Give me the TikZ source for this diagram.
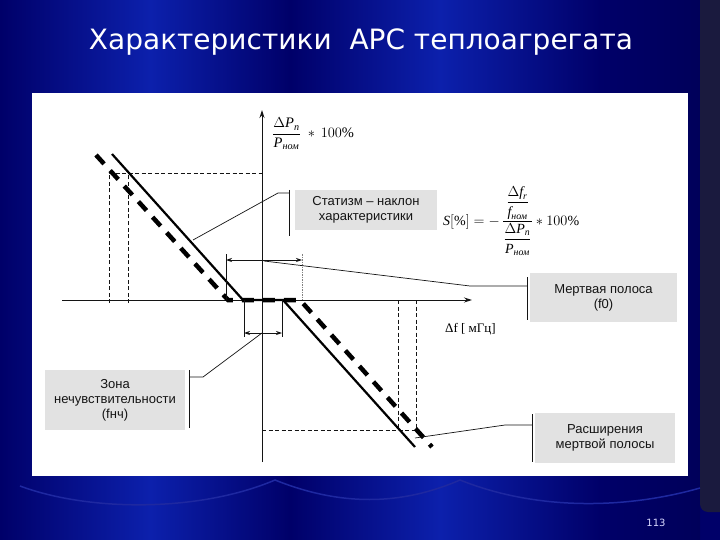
\documentclass[tikz,border=0pt]{standalone}
\usepackage{fontspec}
\usepackage{amsmath}
\setmainfont{Liberation Serif}
\newfontfamily\arialf{Liberation Sans}
\newfontfamily\titlef{DejaVu Sans}
\usetikzlibrary{arrows.meta}
\newcommand{\cyit}[1]{\text{\itshape #1}}
\definecolor{bgdark}{RGB}{0,0,105}
\definecolor{bgbright}{RGB}{12,32,172}
\definecolor{bgdeep}{RGB}{0,0,90}
\definecolor{edgec}{RGB}{26,26,62}
\definecolor{scal}{RGB}{30,40,160}
\definecolor{boxc}{RGB}{226,226,226}
\definecolor{inkc}{RGB}{20,20,20}
\tikzset{
  axisline/.style={line width=0.9pt, draw=inkc},
  thindash/.style={line width=0.8pt, draw=inkc, dash pattern=on 4pt off 2.5pt},
  charline/.style={line width=2.2pt, draw=black},
  dashline/.style={line width=4.5pt, draw=black, dash pattern=on 12pt off 9pt},
  thin leader/.style={line width=0.7pt, draw=inkc},
  bar/.style={line width=0.9pt, draw=inkc},
  labelbox/.style={fill=boxc, draw=none, font=\arialf\fontsize{13}{15}\selectfont, text=inkc, align=center, inner sep=0pt},
  dimarrow/.style={line width=0.8pt, draw=inkc, {Stealth[length=6pt,width=4pt]}-{Stealth[length=6pt,width=4pt]}},
}
\begin{document}
\begin{tikzpicture}[x=1pt,y=-1pt]
\useasboundingbox (0,0) rectangle (720,540);
% background
\fill[bgdark] (0,0) rectangle (720,540);
\shade[left color=bgdark,right color=bgbright] (0,0) rectangle (150,540);
\shade[left color=bgbright,right color=bgdark] (150,0) rectangle (290,540);
\shade[left color=bgdark,right color=bgbright] (290,0) rectangle (440,540);
\shade[left color=bgbright,right color=bgdark] (440,0) rectangle (600,540);
\shade[left color=bgdark,right color=bgdeep] (600,0) rectangle (700,540);
\fill[edgec, rounded corners=8pt] (700,-10) rectangle (730,512);
% curtain scallops
\draw[scal, line width=1.5pt] (20,486) .. controls (90,512) and (200,512) .. (275,480)
  .. controls (340,506) and (400,506) .. (460,480)
  .. controls (540,512) and (630,508) .. (700,488);
% title
\node[font=\titlef\fontsize{28}{32}\selectfont, text=white] (title) at (361,42) {Характеристики\ \ АРС теплоагрегата};
\node[font=\titlef\fontsize{10}{12}\selectfont, text=white!85!blue] (pagenum) at (656,523) {113};
% white panel
\fill[white] (32,93) rectangle (688,476);
% axes
\coordinate (yb) at (262,462); \coordinate (yt) at (262,110);
\coordinate (xl) at (62,300); \coordinate (xr) at (472,300);
\draw[axisline, -{Stealth[length=8pt,width=5pt]}] (yb) -- (yt);
\draw[axisline, -{Stealth[length=8pt,width=5pt]}] (xl) -- (xr);
% thin dashed guides
\coordinate (g1) at (109,303); \coordinate (g2) at (109,173); \coordinate (g3) at (262,173);
\coordinate (g4) at (128,303); \coordinate (g5) at (128,175);
\draw[thindash] (g1) -- (g2) -- (g3);
\draw[thindash] (g4) -- (g5);
\coordinate (h1) at (262,430); \coordinate (h2) at (418,430);
\coordinate (v1) at (398,300); \coordinate (v2) at (398,430);
\coordinate (v3) at (416,300); \coordinate (v4) at (416,430);
\draw[thindash] (h1) -- (h2);
\draw[thindash] (v1) -- (v2);
\draw[thindash] (v3) -- (v4);
% characteristic lines
\coordinate (s1) at (112,154); \coordinate (s2) at (243,300);
\coordinate (s3) at (283,300); \coordinate (s4) at (415,447);
\coordinate (d1) at (96,155); \coordinate (d2) at (228,300);
\coordinate (d3) at (300,300); \coordinate (d4) at (432,447);
\draw[dashline] (d1) -- (d2) -- (d3) -- (d4);
\draw[charline] (s1) -- (s2) -- (s3) -- (s4);
% dead band dimension
\coordinate (db1) at (226,254); \coordinate (db2) at (226,300);
\coordinate (db3) at (302,254); \coordinate (db4) at (302,300);
\coordinate (da1) at (226,260); \coordinate (da2) at (302,260);
\draw[thin leader] (db1) -- (db2);
\draw[thin leader, draw=gray, dash pattern=on 1.5pt off 1pt] (db3) -- (db4);
\draw[dimarrow] (da1) -- (da2);
% insensitivity dimension
\coordinate (ib1) at (244,300); \coordinate (ib2) at (244,337);
\coordinate (ib3) at (282,300); \coordinate (ib4) at (282,337);
\coordinate (ia1) at (244,333); \coordinate (ia2) at (282,333);
\draw[thin leader] (ib1) -- (ib2);
\draw[thin leader] (ib3) -- (ib4);
\draw[dimarrow] (ia1) -- (ia2);
% boxes
\node[labelbox, minimum width=142pt, minimum height=40pt] (box1) at (366,210) {Статизм – наклон\\характеристики};
\node[labelbox, minimum width=147pt, minimum height=49pt] (box2) at (603.5,297.5) {Мертвая полоса\\(f0)};
\node[labelbox, minimum width=140pt, minimum height=60pt] (box3) at (115,400) {Зона\\нечувствительности\\(fнч)};
\node[labelbox, minimum width=140pt, minimum height=50pt] (box4) at (605,438) {Расширения\\мертвой полосы};
% leaders
\coordinate (l1a) at (193,240); \coordinate (l1b) at (278,193); \coordinate (l1c) at (289,193);
\coordinate (b1t) at (289,190); \coordinate (b1b) at (289,236);
\draw[thin leader] (l1a) -- (l1b) -- (l1c);
\draw[bar] (b1t) -- (b1b);
\coordinate (l2a) at (264,261); \coordinate (l2b) at (470,286); \coordinate (l2c) at (527,286);
\coordinate (b2t) at (527,277); \coordinate (b2b) at (527,320);
\draw[thin leader] (l2a) -- (l2b) -- (l2c);
\draw[bar] (b2t) -- (b2b);
\coordinate (l3a) at (262,333); \coordinate (l3b) at (203,377); \coordinate (l3c) at (189,377);
\coordinate (b3t) at (189,370); \coordinate (b3b) at (189,428);
\draw[thin leader] (l3a) -- (l3b) -- (l3c);
\draw[bar] (b3t) -- (b3b);
\coordinate (l4a) at (415,438); \coordinate (l4b) at (505,425); \coordinate (l4c) at (532,425);
\coordinate (b4t) at (532,414); \coordinate (b4b) at (532,462);
\draw[thin leader] (l4a) -- (l4b) -- (l4c);
\draw[bar] (b4t) -- (b4b);
% formulas
\node[anchor=west, font=\fontsize{14.5}{17}\selectfont, inner sep=0pt] (ylab) at (272,134)
  {$\dfrac{\Delta \cyit{P}_{\cyit{п}}}{\cyit{P}_{\cyit{ном}}}\;*\,100\%$};
\node[anchor=west, font=\fontsize{14}{16}\selectfont, inner sep=0pt] (sform) at (443,221)
  {$\cyit{S}[\%] = -\,\dfrac{\dfrac{\Delta \cyit{f}_{\cyit{r}}}{\cyit{f}_{\cyit{ном}}}}{\dfrac{\Delta \cyit{P}_{\cyit{п}}}{\cyit{P}_{\cyit{ном}}}}*100\%$};
\node[anchor=west, font=\fontsize{13}{15}\selectfont, inner sep=0pt] (xlab) at (445,329) {Δf [ мГц]};
\end{tikzpicture}
\end{document}
